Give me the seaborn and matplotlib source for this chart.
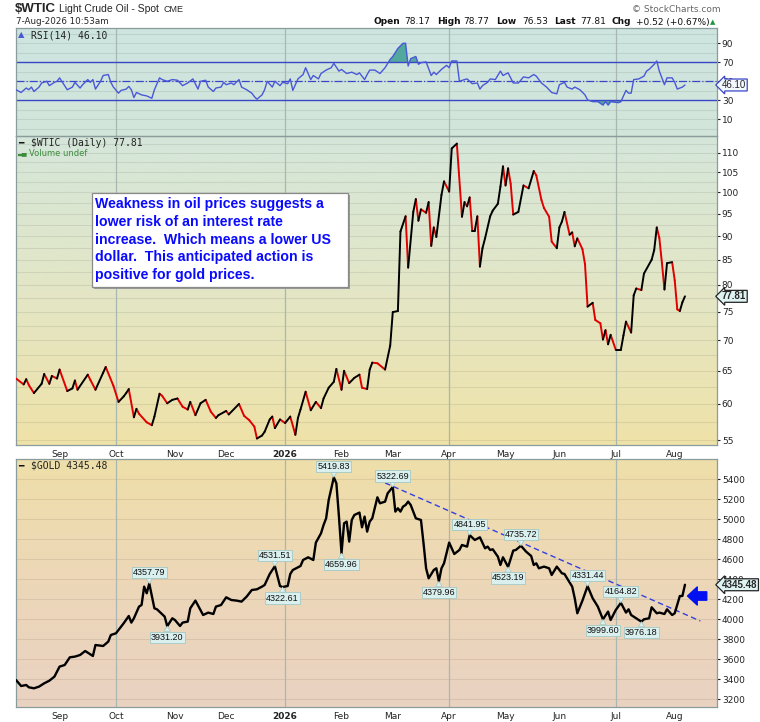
import numpy as np
import pandas as pd
import matplotlib
matplotlib.use("Agg")
import matplotlib.pyplot as plt
import matplotlib.transforms as mtransforms
from matplotlib.patches import Rectangle
from matplotlib.colors import LinearSegmentedColormap
import seaborn as sns

# x values are trading sessions counted from 7-Aug-2025 (weekends skipped)
start_day = "2025-08-07"

wtic_session = [0, 3, 4, 5, 7, 10, 11, 13, 14, 16,
                17, 20, 22, 23, 24, 28, 29, 31, 34, 35,
                38, 40, 42, 43, 44, 46, 47, 48, 51, 53,
                54, 56, 57, 59, 61, 63, 65, 67, 68, 70,
                72, 74, 76, 78, 79, 82, 83, 87, 89, 91,
                93, 94, 96, 97, 99, 100, 101, 103, 105, 107,
                109, 110, 111, 113, 115, 117, 119, 120, 122, 124,
                125, 127, 128, 130, 132, 134, 135, 137, 138, 139,
                141, 144, 146, 147, 149, 150, 152, 153, 155, 156,
                157, 158, 160, 161, 162, 163, 164, 166, 167, 169,
                170, 172, 174, 175, 176, 177, 178, 179, 180, 181,
                182, 183, 185, 186, 188, 189, 190, 191, 192, 193,
                194, 196, 198, 200, 202, 203, 205, 206, 208, 209,
                211, 212, 213, 214, 216, 217, 218, 219, 221, 222,
                223, 225, 226, 228, 229, 230, 231, 232, 234, 236,
                237, 238, 240, 241, 242, 244, 245, 248, 249, 250,
                251, 252, 253, 254, 256, 257, 258, 259, 260, 261]
wtic_close = [63.8, 62.9, 63.7, 62.8, 61.6, 63.0, 64.5, 63.0, 64.2, 63.8,
              65.2, 61.9, 62.3, 63.5, 62.1, 64.4, 63.6, 62.1, 64.7, 65.6,
              62.7, 60.3, 61.1, 61.6, 62.2, 58.1, 59.3, 58.6, 57.4, 57.0,
              58.2, 61.5, 61.2, 60.1, 60.6, 60.8, 59.6, 59.2, 60.3, 58.4,
              60.1, 60.6, 58.9, 58.0, 58.4, 59.0, 58.5, 60.0, 58.3, 57.7,
              56.8, 55.2, 55.6, 56.1, 57.8, 58.2, 56.6, 57.8, 57.3, 58.2,
              55.7, 58.0, 59.2, 61.8, 59.1, 60.3, 59.4, 60.8, 62.4, 63.3,
              65.3, 62.1, 65.0, 63.1, 63.9, 64.4, 62.4, 62.2, 65.2, 66.3,
              66.2, 65.2, 69.1, 74.9, 75.1, 91.0, 94.4, 83.4, 95.4, 98.4,
              93.4, 96.0, 95.2, 97.7, 87.9, 91.9, 89.8, 99.4, 102.7, 100.2,
              111.2, 112.5, 94.3, 97.7, 96.7, 98.8, 91.2, 91.2, 94.4, 83.6,
              87.4, 89.5, 94.4, 95.7, 97.3, 101.4, 106.5, 101.7, 106.0, 102.1,
              94.8, 95.4, 101.7, 101.0, 105.3, 104.2, 98.2, 96.3, 94.3, 88.8,
              87.4, 91.9, 93.2, 95.4, 90.3, 90.8, 87.8, 89.5, 87.2, 84.1,
              75.9, 76.6, 73.5, 72.9, 70.1, 71.7, 69.3, 70.9, 68.4, 68.4,
              70.8, 73.2, 71.3, 78.0, 79.3, 79.0, 82.2, 85.0, 87.0, 91.9,
              89.6, 84.4, 79.1, 84.3, 84.5, 80.9, 75.4, 75.1, 76.7, 77.81]

gold_session = [0, 2, 4, 5, 7, 9, 11, 13, 15, 17,
                19, 21, 23, 25, 27, 30, 31, 34, 36, 37,
                39, 42, 44, 45, 46, 48, 49, 50, 51, 52,
                54, 55, 58, 59, 61, 62, 64, 65, 67, 68,
                70, 73, 75, 77, 78, 80, 82, 84, 86, 88,
                90, 92, 94, 96, 97, 99, 101, 103, 104, 106,
                107, 108, 111, 112, 114, 116, 117, 119, 120, 121,
                122, 124, 125, 126, 127, 128, 129, 130, 131, 132,
                134, 135, 136, 137, 138, 139, 141, 142, 144, 145,
                147, 148, 149, 150, 151, 152, 153, 154, 155, 156,
                158, 159, 160, 161, 163, 164, 165, 166, 167, 169,
                171, 173, 174, 176, 177, 179, 181, 183, 184, 185,
                186, 188, 189, 190, 192, 194, 195, 197, 199, 201,
                202, 203, 204, 206, 208, 209, 211, 213, 214, 215,
                217, 218, 219, 221, 223, 225, 227, 229, 231, 232,
                234, 236, 238, 239, 240, 242, 244, 245, 247, 248,
                250, 251, 253, 254, 256, 257, 259, 260, 261]
gold_close = [3393, 3333, 3343, 3320, 3310, 3327, 3360, 3386, 3427, 3527,
              3543, 3620, 3627, 3643, 3683, 3633, 3743, 3733, 3777, 3843,
              3860, 3960, 4033, 3967, 4010, 4127, 4143, 4327, 4260, 4357.79,
              4110, 4100, 4027, 3931.20, 4010, 3993, 3933, 3967, 3977, 4110,
              4187, 4043, 4067, 4053, 4127, 4143, 4220, 4193, 4187, 4177,
              4227, 4293, 4300, 4327, 4343, 4453, 4531.51, 4333, 4322.61, 4333,
              4453, 4493, 4533, 4593, 4620, 4593, 4767, 4860, 4943, 5010,
              5193, 5419.83, 5360, 5027, 4659.96, 4960, 4977, 4777, 4993, 5043,
              5067, 4920, 5027, 4877, 4977, 5010, 5220, 5160, 5177, 5260,
              5322.69, 5077, 5110, 5077, 5127, 5143, 5177, 5143, 5077, 5010,
              4993, 4760, 4510, 4410, 4493, 4510, 4379.96, 4510, 4560, 4767,
              4653, 4693, 4743, 4727, 4841.95, 4793, 4820, 4710, 4727, 4693,
              4700, 4627, 4543, 4620, 4523.19, 4687, 4693, 4735.72, 4677, 4633,
              4543, 4560, 4510, 4527, 4510, 4443, 4527, 4460, 4453, 4410,
              4327, 4210, 4060, 4187, 4331.44, 4210, 4127, 3999.60, 4077, 3993,
              4093, 4164.82, 4067, 4100, 4043, 4010, 3976.18, 4000, 4010, 4120,
              4060, 4067, 4053, 4100, 4043, 4060, 4233, 4233, 4345.48]

# labelled swing points on the gold chart
pivot_session = [52, 59, 101, 104, 124, 127, 147, 165, 177, 192, 197, 223, 229, 236, 244]
pivot_side = ["high", "low", "high", "low", "high", "low", "high", "low",
              "high", "low", "high", "high", "low", "high", "low"]

trend_session = [144, 267]
trend_value = [5364, 3983]
arrow_session = [269.5, 262]
arrow_value = [4233, 4233]

rsi_session = [0, 2, 4, 5, 6, 7, 9, 10, 12, 13,
               15, 16, 17, 19, 20, 22, 23, 25, 26, 28,
               29, 30, 31, 33, 34, 36, 37, 38, 40, 41,
               43, 44, 45, 46, 47, 49, 51, 53, 54, 56,
               57, 59, 61, 63, 65, 67, 69, 71, 72, 74,
               75, 77, 78, 80, 81, 82, 84, 85, 87, 88,
               90, 92, 93, 94, 96, 97, 98, 100, 101, 103,
               104, 106, 107, 108, 110, 112, 113, 115, 116, 118,
               119, 121, 123, 124, 126, 127, 129, 131, 133, 134,
               136, 137, 138, 140, 142, 144, 146, 147, 149, 151,
               152, 153, 154, 156, 157, 158, 160, 162, 163, 164,
               166, 168, 169, 170, 172, 173, 175, 176, 178, 180,
               181, 182, 184, 185, 187, 189, 190, 192, 194, 196,
               198, 200, 202, 203, 205, 207, 209, 211, 212, 214,
               215, 217, 218, 220, 222, 223, 225, 227, 229, 230,
               231, 232, 235, 236, 238, 239, 240, 241, 243, 245,
               246, 247, 249, 250, 251, 253, 254, 256, 257, 258,
               260, 261]
rsi_value = [41.1, 38.2, 42.9, 41.1, 43.9, 39.3, 43.9, 48.2, 50.0, 45.4,
             48.9, 50.0, 53.6, 45.4, 41.1, 43.9, 48.9, 42.9, 46.4, 51.8,
             48.9, 51.8, 41.8, 50.0, 56.1, 57.1, 48.9, 43.9, 37.5, 40.4,
             41.8, 44.6, 41.1, 32.9, 38.2, 35.7, 34.6, 32.1, 41.1, 53.6,
             51.8, 50.0, 51.8, 51.1, 45.4, 48.2, 52.5, 41.8, 50.0, 51.1,
             43.9, 39.3, 42.9, 43.9, 48.9, 46.4, 48.2, 46.4, 51.8, 43.9,
             41.1, 37.5, 33.9, 31.1, 35.7, 41.1, 50.0, 43.9, 50.0, 45.4,
             48.9, 47.5, 52.5, 40.4, 52.5, 57.1, 64.3, 51.8, 56.1, 52.5,
             58.2, 61.8, 64.3, 68.9, 60.7, 62.5, 58.2, 59.6, 57.1, 58.9,
             51.8, 57.1, 61.8, 61.8, 58.2, 64.3, 73.2, 76.1, 84.6, 90.0,
             90.0, 66.1, 73.9, 76.1, 67.9, 69.6, 70.4, 56.1, 59.6, 57.1,
             62.5, 66.8, 64.3, 71.4, 71.4, 50.0, 51.8, 52.5, 47.5, 48.2,
             41.8, 45.4, 48.9, 52.5, 51.8, 60.7, 56.1, 58.9, 48.2, 48.2,
             54.6, 53.6, 57.1, 55.4, 48.2, 43.9, 38.2, 36.8, 46.4, 48.9,
             43.9, 41.8, 43.9, 41.1, 35.7, 30.4, 28.6, 28.6, 25.0, 28.6,
             25.0, 28.6, 27.5, 28.6, 40.4, 37.5, 37.5, 51.8, 52.5, 55.4,
             60.7, 62.5, 67.9, 71.4, 60.7, 46.4, 53.6, 53.6, 48.9, 41.8,
             43.9, 46.1]

sns.set_style("white")
plt.rcParams["font.family"] = ["DejaVu Sans"]

W, H = 760, 722
fig = plt.figure(figsize=(W / 100, H / 100), dpi=100)
fig.patch.set_facecolor("white")


def fx(px):
    return px / W


def fy(py):
    return 1 - py / H


XMAX = 273.5
days = pd.bdate_range(start_day, periods=280)
month_first = [i for i in range(1, len(days))
               if days[i].month != days[i - 1].month and i < XMAX]
month_text = [str(days[i].year) if days[i].month == 1 else days[i].strftime("%b") for i in month_first]
quarter_first = [i for i in month_first if days[i].month in (1, 4, 7, 10)]


def panel(top, bottom, colors):
    rect = [fx(16), fy(bottom), fx(717) - fx(16), (bottom - top) / H]
    bg = fig.add_axes(rect, zorder=0)
    cmap = LinearSegmentedColormap.from_list("bg", colors)
    bg.imshow(np.linspace(0, 1, 256).reshape(-1, 1), cmap=cmap, aspect="auto",
              extent=[0, 1, 0, 1], origin="upper")
    bg.axis("off")
    ax = fig.add_axes(rect, zorder=1)
    ax.set_facecolor("none")
    return ax


def style(ax, lo, hi, yticks, show_months=True):
    ax.set_xlabel("")
    ax.set_ylabel("")
    ax.yaxis.tick_right()
    ax.yaxis.set_minor_locator(matplotlib.ticker.NullLocator())
    ax.set_yticks(yticks)
    ax.set_yticklabels([str(v) for v in yticks])
    ax.tick_params(axis="y", labelsize=6.5, length=2, pad=1.5, colors="#222222")
    ax.set_xticks(month_first)
    ax.set_xticklabels(month_text)
    ax.tick_params(axis="x", labelsize=6.5, length=2, pad=1.5, colors="#222222",
                   labelbottom=show_months)
    for lab in ax.get_xticklabels():
        if lab.get_text().isdigit():
            lab.set_fontweight("bold")
    for q in quarter_first:
        ax.axvline(q, color="#a8b8b0", lw=0.9, zorder=1)
    for sp in ax.spines.values():
        sp.set_color("#8b9c9c")
        sp.set_linewidth(0.9)
    # limits last, so that the tick setters cannot widen them
    ax.set_xlim(0, XMAX)
    ax.set_ylim(lo, hi)


def tag(ax, y, text, bold, ec, fc):
    tr = mtransforms.blended_transform_factory(ax.transAxes, ax.transData)
    ax.text(1 + 5 / 701, y, text, transform=tr, ha="left", va="center", fontsize=7,
            family="Liberation Sans", fontweight="bold" if bold else "normal",
            bbox=dict(boxstyle="larrow,pad=0.1", fc=fc, ec=ec, lw=0.9),
            clip_on=False, zorder=10)


# ---- RSI panel
ax_r = panel(28, 136, ["#cde4e0", "#d3e6da"])
for v in range(0, 101, 10):
    ax_r.axhline(v, color="black", alpha=0.08, lw=0.8, zorder=1)
rsi_arr = np.array(rsi_value)
ax_r.fill_between(rsi_session, rsi_arr, 70, where=rsi_arr > 70, interpolate=True,
                  color="#52a89c", lw=0, zorder=2)
ax_r.fill_between(rsi_session, rsi_arr, 30, where=rsi_arr < 30, interpolate=True,
                  color="#52a89c", lw=0, zorder=2)
ax_r.axhline(70, color="#3a46c8", lw=1.0, zorder=2)
ax_r.axhline(30, color="#3a46c8", lw=1.0, zorder=2)
ax_r.axhline(50, color="#3a46c8", lw=0.9, ls="-.", zorder=2)
sns.lineplot(x=rsi_session, y=rsi_value, color="#4a58d8", lw=1.0, ax=ax_r, zorder=3)
style(ax_r, -7.6, 106.1, [10, 30, 50, 70, 90], show_months=False)
tag(ax_r, rsi_value[-1], f"{rsi_value[-1]:.2f}", False, "#3a46c8", "#f4f8ff")
fig.text(fx(31), fy(35), "RSI(14) 46.10", family="DejaVu Sans Mono", fontsize=7,
         va="center", color="#222222")
fig.text(fx(18), fy(35), "\u25b2", fontsize=6, va="center", color="#4a58d8")

# ---- WTIC panel (log scale, down days in red)
ax_w = panel(136, 445, ["#d5e6da", "#e3e6c6", "#efe2a8"])
ax_w.set_yscale("log")
for v in np.arange(55, 115, 2.5):
    ax_w.axhline(v, color="black", alpha=0.08, lw=0.8, zorder=1)
seg_rows = []
for i in range(1, len(wtic_close)):
    d = "up" if wtic_close[i] >= wtic_close[i - 1] else "down"
    for j in (i - 1, i):
        seg_rows.append((i, d, wtic_session[j], wtic_close[j]))
segs = pd.DataFrame(seg_rows, columns=["seg", "dir", "session", "close"])
sns.lineplot(data=segs, x="session", y="close", units="seg", hue="dir", estimator=None,
             palette={"up": "black", "down": "#e00000"}, legend=False, sort=False,
             lw=1.4, solid_capstyle="round", ax=ax_w, zorder=3)
style(ax_w, 54.34, 114.6, [55, 60, 65, 70, 75, 80, 85, 90, 95, 100, 105, 110])
tag(ax_w, wtic_close[-1], f"{wtic_close[-1]:.2f}", True, "#222222", "#dff3f3")
fig.text(fx(31), fy(143), "$WTIC (Daily) 77.81", family="DejaVu Sans Mono", fontsize=7,
         va="center", color="#222222")
fig.text(fx(18), fy(143), "\u2501", fontsize=6.5, va="center", color="#111111")
fig.text(fx(29), fy(153), "Volume undef", fontsize=6, va="center", color="#3c8c3c")
fig.text(fx(17.5), fy(153), "\u2583\u2585", fontsize=4.5, va="center", color="#3c8c3c")

# comment box
fig.add_artist(Rectangle((fx(94), fy(289)), fx(348) - fx(92), (287 - 193) / H,
                         transform=fig.transFigure, fc="#9a9a9a", ec="none", zorder=4))
fig.add_artist(Rectangle((fx(92), fy(287)), fx(348) - fx(92), (287 - 193) / H,
                         transform=fig.transFigure, fc="white", ec="#8a8a8a", lw=0.9, zorder=5))
note = ["Weakness in oil prices suggests a",
        "lower risk of an interest rate",
        "increase.  Which means a lower US",
        "dollar.  This anticipated action is",
        "positive for gold prices."]
for k, line in enumerate(note):
    fig.text(fx(95), fy(204.3 + 17.7 * k), line, family="Liberation Sans", fontweight="bold",
             fontsize=10.2, color="#0a0aff", va="center", ha="left", zorder=6)

# ---- GOLD panel
ax_g = panel(459, 707, ["#efdfa9", "#edd7b8", "#ead2c2"])
for v in range(3200, 5601, 200):
    ax_g.axhline(v, color="black", alpha=0.08, lw=0.8, zorder=1)
sns.lineplot(x=trend_session, y=trend_value, color="#3340e0", lw=1.0, ls=(0, (4, 2.5)),
             ax=ax_g, zorder=2)
sns.lineplot(x=gold_session, y=gold_close, color="black", lw=1.7, ax=ax_g, zorder=3)
style(ax_g, 3123, 5603, list(range(3200, 5401, 200)))
gold_at = dict(zip(gold_session, gold_close))
for s, side in zip(pivot_session, pivot_side):
    v = gold_at[s]
    off = 11 if side == "high" else -11
    ax_g.annotate(f"{v:.2f}", xy=(s, v), xytext=(0, off), textcoords="offset pixels",
                  ha="center", va="center", fontsize=6.5, family="Liberation Sans",
                  color="#111111",
                  bbox=dict(boxstyle="square,pad=0.12", fc="#daf0ee", ec="#a4c8c6", lw=0.6),
                  arrowprops=dict(arrowstyle="wedge,tail_width=0.7", fc="#daf0ee",
                                  ec="#a4c8c6", lw=0.5, shrinkA=0, shrinkB=0),
                  zorder=6)
ax_g.annotate("", xy=(arrow_session[1], arrow_value[1]),
              xytext=(arrow_session[0], arrow_value[0]),
              arrowprops=dict(arrowstyle="simple,head_length=0.7,head_width=1.3,tail_width=0.6",
                              fc="#0010f0", ec="#0010f0", shrinkA=0, shrinkB=0),
              annotation_clip=False, zorder=7)
tag(ax_g, gold_close[-1], f"{gold_close[-1]:.2f}", True, "#222222", "#dff3f3")
fig.text(fx(31), fy(466), "$GOLD 4345.48", family="DejaVu Sans Mono", fontsize=7,
         va="center", color="#222222")
fig.text(fx(18), fy(466), "\u2501", fontsize=6.5, va="center", color="#111111")

# ---- header
fig.text(fx(15), fy(9), "$WTIC", family="Liberation Sans", fontweight="bold",
         fontsize=9.5, va="center")
fig.text(fx(59), fy(9.5), "Light Crude Oil - Spot", family="Liberation Sans",
         fontsize=7.5, va="center")
fig.text(fx(163), fy(10), "CME", family="Liberation Sans", fontsize=6.5, va="center")
fig.text(fx(16), fy(22), "7-Aug-2026 10:53am", fontsize=6.3, va="center")
fig.text(fx(632), fy(9), "\u00a9 StockCharts.com", fontsize=6.5, va="center",
         color="#666666")
quote = [(374, "Open", True), (404, "78.17", False), (437, "High", True),
         (463, "78.77", False), (496, "Low", True), (522, "76.53", False),
         (554, "Last", True), (580, "77.81", False), (612, "Chg", True),
         (636, "+0.52 (+0.67%)", False)]
for px, s, b in quote:
    fig.text(fx(px), fy(22), s, fontsize=6.5, va="center",
             fontweight="bold" if b else "normal", color="#111111")
fig.text(fx(710), fy(22), "\u25b2", fontsize=5, va="center", color="#1a9a3a")

fig.savefig("out.png", dpi=100)
